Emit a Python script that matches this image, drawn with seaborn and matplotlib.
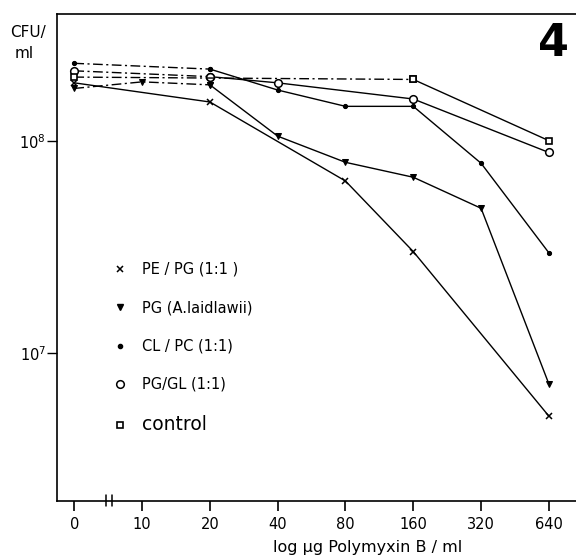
import matplotlib
matplotlib.use("Agg")
import matplotlib.pyplot as plt
import matplotlib.transforms as mtransforms
from matplotlib.lines import Line2D
from matplotlib.ticker import NullLocator
import pandas as pd
import seaborn as sns

# Polymyxin B concentrations (µg/ml), evenly spaced on the axis
doses = ["0", "10", "20", "40", "80", "160", "320", "640"]

# Viable counts (CFU/ml) for each liposome preparation
pe_pg_dose = ["0", "20", "80", "160", "640"]
pe_pg_cfu = [1.87e8, 1.52e8, 6.46e7, 3.01e7, 5.07e6]

pg_al_dose = ["0", "10", "20", "40", "80", "160", "320", "640"]
pg_al_cfu = [1.76e8, 1.89e8, 1.83e8, 1.05e8, 7.91e7, 6.73e7, 4.81e7, 7.18e6]

cl_pc_dose = ["0", "20", "40", "80", "160", "320", "640"]
cl_pc_cfu = [2.31e8, 2.17e8, 1.73e8, 1.45e8, 1.45e8, 7.83e7, 2.97e7]

pg_gl_dose = ["0", "20", "40", "160", "640"]
pg_gl_cfu = [2.13e8, 2.00e8, 1.87e8, 1.57e8, 8.80e7]

control_dose = ["0", "160", "640"]
control_cfu = [1.99e8, 1.94e8, 1.00e8]

series_labels = ["PE / PG (1:1 )", "PG (A.laidlawii)", "CL / PC (1:1)",
                 "PG/GL (1:1)", "control"]
y_ticks = [1e7, 1e8]
y_tick_labels = ["$10^7$", "$10^8$"]

sns.set_style("ticks")
plt.rcParams["font.family"] = ["DejaVu Sans"]
plt.rcParams["mathtext.fontset"] = "dejavusans"
plt.rcParams["text.color"] = "black"
plt.rcParams["axes.labelcolor"] = "black"
plt.rcParams["xtick.color"] = "black"
plt.rcParams["ytick.color"] = "black"

fig = plt.figure(figsize=(5.76, 5.59), dpi=100)
ax = fig.add_axes([0.099, 0.1043, 0.901, 0.8715])

marker_styles = [
    dict(marker="x", markersize=4.5, markeredgewidth=1.1),
    dict(marker="v", markersize=5.0),
    dict(marker="o", markersize=3.0),
    dict(marker="o", markersize=5.5, markerfacecolor="white", markeredgewidth=1.1),
    dict(marker="s", markersize=4.8, markerfacecolor="white", markeredgewidth=1.2),
]

# (dose list, values, dose where the dash-dot part ends or None)
all_series = [
    (pe_pg_dose, pe_pg_cfu, None),
    (pg_al_dose, pg_al_cfu, "20"),
    (cl_pc_dose, cl_pc_cfu, "20"),
    (pg_gl_dose, pg_gl_cfu, "20"),
    (control_dose, control_cfu, "160"),
]

dashdot = (0, (7, 2.5, 1.5, 2.5))


def draw(dose, cfu, mstyle, linestyle):
    df = pd.DataFrame({"pos": [doses.index(d) for d in dose], "cfu": cfu})
    sns.lineplot(data=df, x="pos", y="cfu", ax=ax, color="black",
                 linewidth=1.0, linestyle=linestyle, markeredgecolor="black",
                 errorbar=None, estimator=None, sort=False, **mstyle)


for (dose, cfu, split), mstyle in zip(all_series, marker_styles):
    if split is None:
        draw(dose, cfu, mstyle, "-")
    else:
        k = dose.index(split)
        draw(dose[:k + 1], cfu[:k + 1], mstyle, dashdot)
        draw(dose[k:], cfu[k:], mstyle, "-")

ax.set_yscale("log")
ax.set_ylim(2.03e6, 3.96e8)
ax.set_xlim(-0.255, 7.40)
ax.set_yticks(y_ticks)
ax.set_yticklabels(y_tick_labels)
ax.yaxis.set_minor_locator(NullLocator())
ax.set_xticks(range(len(doses)))
ax.set_xticklabels(doses)

for side in ["left", "bottom", "top"]:
    ax.spines[side].set_linewidth(1.2)
    ax.spines[side].set_color("black")
ax.spines["right"].set_visible(False)

ax.tick_params(axis="x", length=7, width=1.2, pad=5, labelsize=10.5,
               colors="black", labelcolor="black")
ax.tick_params(axis="y", length=7, width=1.0, pad=1, labelsize=10.5,
               colors="black", labelcolor="black")

ax.set_xlabel("log µg Polymyxin B / ml", fontsize=11.5, color="black")
ax.xaxis.set_label_coords(0.599, -0.097)
ax.xaxis.label.set_va("center")
ax.set_ylabel("")

# axis break between 0 and 10
trans = mtransforms.blended_transform_factory(ax.transData, ax.transAxes)
for xb in (0.463, 0.552):
    ax.plot([xb, xb], [-0.0115, 0.0115], transform=trans, color="black",
            lw=1.1, clip_on=False)

handles = [Line2D([], [], linestyle="none", color="black",
                  markeredgecolor="black", **ms) for ms in marker_styles]
leg = ax.legend(handles, series_labels, loc="upper left",
                bbox_to_anchor=(0.1066, 0.49), frameon=False, fontsize=10.5,
                labelspacing=1.6, handlelength=1.0, handletextpad=1.05,
                borderaxespad=0, borderpad=0)
for t in leg.get_texts():
    t.set_color("black")
leg.get_texts()[-1].set_fontsize(13.5)

fig.text(10 / 576, 1 - 33 / 559, "CFU/", fontsize=11, ha="left", va="center",
         color="black")
fig.text(15 / 576, 1 - 53 / 559, "ml", fontsize=11, ha="left", va="center",
         color="black")
fig.text(553 / 576, 1 - 43 / 559, "4", fontsize=32, fontweight="heavy",
         ha="center", va="center", color="black")

fig.savefig("out.png", dpi=100)
